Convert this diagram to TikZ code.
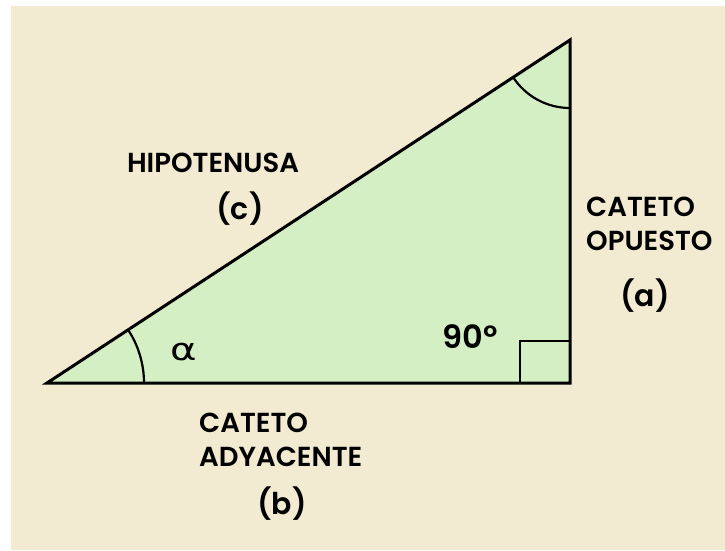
\documentclass[tikz,border=0pt]{standalone}
\usepackage{fontspec}
\setmainfont{Poppins}[BoldFont={* SemiBold}]
\newfontfamily\grk{DejaVu Sans}
\begin{document}
\begin{tikzpicture}[x=1pt,y=-1pt,
  lbl/.style={font=\bfseries\fontsize{27.5}{34}\selectfont, inner sep=0pt, align=left},
  big/.style={font=\bfseries\fontsize{30}{32}\selectfont, inner sep=0pt},
  edge/.style={line width=3pt, line join=miter},
  thin/.style={line width=2.2pt}]
\definecolor{bg}{HTML}{F3EBD1}
\definecolor{tri}{HTML}{D5EFC5}
\useasboundingbox (0,0) rectangle (725,550);
\fill[white] (0,0) rectangle (725,550);
\fill[bg] (11,6) rectangle (725,550);
\coordinate (A) at (47,383);
\coordinate (C) at (570,383);
\coordinate (B) at (570,40);
\fill[tri] (A) -- (C) -- (B) -- cycle;
% right angle mark
\coordinate (R1) at (520,383);
\coordinate (R2) at (520,341);
\coordinate (R3) at (570,341);
\draw[thin] (R1) -- (R2) -- (R3);
% alpha arc
\draw[thin] ([shift={(0:97)}]A) arc[start angle=0, end angle=-33.26, radius=97];
% top arc
\draw[thin] ([shift={(90:68)}]B) arc[start angle=90, end angle=146.74, radius=68];
\draw[edge] (A) -- (C) -- (B) -- cycle;
\node[lbl] (hip) at (213,163) {HIPOTENUSA};
\node[big] (c) at (240,209) {(c)};
\node[lbl, anchor=west] (op) at (586,224) {CATETO\\OPUESTO};
\node[big] (a) at (645,296) {(a)};
\node[big, font=\bfseries\fontsize{32}{34}\selectfont] (ang) at (470,337) {90º};
\node[font=\grk\fontsize{31}{33}\selectfont, inner sep=0pt, xscale=1.3] (al) at (184,352) {α};
\node[lbl, anchor=west] (ad) at (199,440) {CATETO\\ADYACENTE};
\node[big] (b) at (282,504) {(b)};
\end{tikzpicture}
\end{document}
